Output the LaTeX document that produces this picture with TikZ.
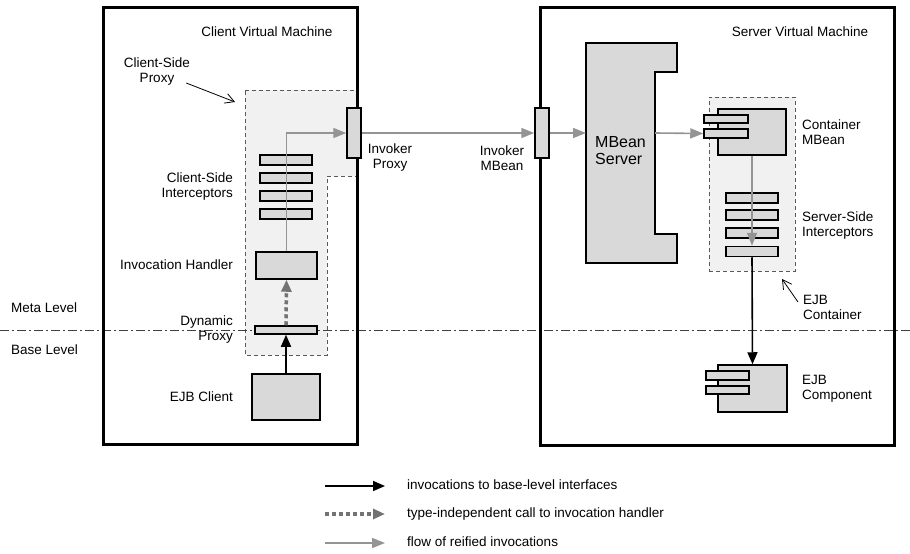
\documentclass[tikz,border=0pt]{standalone}
\usepackage{fontspec}
\setmainfont{Liberation Sans}
\usetikzlibrary{arrows.meta}
\definecolor{partgray}{gray}{0.85}
\definecolor{regiongray}{gray}{0.945}
\begin{document}
\begin{tikzpicture}[x=1pt,y=-1pt,
    font=\fontsize{13.5}{15}\selectfont,
    vm/.style={draw,line width=3pt,minimum width=#1},
    part/.style={draw,line width=1.5pt,fill=partgray,inner sep=0pt},
    region/.style={draw=black!65,dash pattern=on 4pt off 3pt,line width=1pt,fill=regiongray},
    level/.style={draw=black!75,dash pattern=on 9pt off 3pt on 2pt off 3pt,line width=0.9pt},
    base/.style={-{Triangle[length=12pt,width=10pt]},line width=1.6pt},
    reified/.style={-{Triangle[length=13pt,width=10pt]},line width=1.6pt,draw=black!42},
    handler/.style={-{Triangle[length=12pt,width=10pt]},line width=3.5pt,draw=black!55,dash pattern=on 4pt off 3pt},
    note/.style={-{Straight Barb[length=9pt,width=10pt]},line width=0.8pt},
    lbl/.style={inner sep=0pt}]
  \useasboundingbox (0,0) rectangle (910,554);
  % proxy and container regions
  \draw[region] (245,90) -- (357,90) -- (357,176) -- (327,176) -- (327,355) -- (245,355) -- cycle;
  \node[region,minimum width=86pt,minimum height=174pt] (ctr) at (752,184) {};
  % meta / base level divider
  \coordinate (lvlW) at (0,330);
  \coordinate (lvlE) at (910,330);
  \draw[level] (lvlW) -- (lvlE);
  % virtual machines
  \node[vm=254pt,minimum height=437pt] (cvm) at (230,225.5) {};
  \node[vm=354pt,minimum height=438pt] (svm) at (717,226) {};
  % client side
  \node[part,minimum width=52pt,minimum height=10pt] (ci1) at (286,160) {};
  \node[part,minimum width=52pt,minimum height=10pt] (ci2) at (286,178) {};
  \node[part,minimum width=52pt,minimum height=10pt] (ci3) at (286,196) {};
  \node[part,minimum width=52pt,minimum height=10pt] (ci4) at (286,214) {};
  \node[part,minimum width=61pt,minimum height=27pt] (hdl) at (286.5,265.5) {};
  \node[part,minimum width=62pt,minimum height=8pt] (dyn) at (286,330) {};
  \node[part,minimum width=68pt,minimum height=46pt] (ejbc) at (286,397) {};
  \node[part,minimum width=14pt,minimum height=50pt] (iprx) at (354,133) {};
  \node[part,minimum width=14pt,minimum height=50pt] (imb) at (542,133) {};
  % server side
  \draw[part] (586,43) -- (677,43) -- (677,72) -- (655,72) -- (655,234) -- (677,234) -- (677,263) -- (586,263) -- cycle;
  \coordinate (srvW) at (586,133);
  \coordinate (srvE) at (655,133);
  \node[part,minimum width=68pt,minimum height=46pt] (cmb) at (752,132) {};
  \node[part,minimum width=44pt,minimum height=8pt] (ctab1) at (726,119) {};
  \node[part,minimum width=44pt,minimum height=9pt] (ctab2) at (726,133.5) {};
  \node[part,minimum width=52pt,minimum height=10pt] (si1) at (752,198) {};
  \node[part,minimum width=52pt,minimum height=10pt] (si2) at (752,215) {};
  \node[part,minimum width=52pt,minimum height=10pt] (si3) at (752,233) {};
  \node[part,minimum width=52pt,minimum height=10pt] (si4) at (752,251.5) {};
  \node[part,minimum width=69pt,minimum height=47pt] (ejb) at (752.5,388.5) {};
  \node[part,minimum width=43pt,minimum height=9pt] (etab1) at (727.5,375.5) {};
  \node[part,minimum width=43pt,minimum height=8pt] (etab2) at (727.5,390) {};
  % invocations
  \draw[reified] (hdl.north) -- (hdl.north |- iprx.west) -- (iprx.west);
  \draw[reified] (iprx.east) -- (imb.west);
  \draw[reified] (imb.east) -- (srvW);
  \draw[reified] (srvE) -- (ctab2.west);
  \draw[reified] (cmb.south) -- (si4.north);
  \draw[handler] (dyn.north) -- (hdl.south);
  \draw[base] (ejbc.north) -- (dyn.south);
  \draw[base] (si4.south) -- (ejb.north);
  % labels
  \node[lbl] (cvmt) at (267,32) {Client Virtual Machine};
  \node[lbl] (svmt) at (800,32) {Server Virtual Machine};
  \node[lbl,align=center] (cspl) at (157,72) {Client-Side\\Proxy};
  \coordinate (cspTip) at (235,102);
  \draw[note] ([shift={(-4,-3)}]cspl.south east) -- (cspTip);
  \node[lbl,align=right,anchor=east] (cil) at (233,187) {Client-Side\\Interceptors};
  \node[lbl,anchor=east] (hdll) at (233,265) {Invocation Handler};
  \node[lbl,align=right,anchor=east] (dynl) at (233,330) {Dynamic\\Proxy};
  \node[lbl,anchor=east] (ejbcl) at (233,397) {EJB Client};
  \node[lbl,align=center] (iprxl) at (390,158) {Invoker\\Proxy};
  \node[lbl,align=center] (imbl) at (502,158) {Invoker\\MBean};
  \node[lbl,align=left,anchor=west,font=\fontsize{16}{17}\selectfont] (mbsl) at (595,151) {MBean\\Server};
  \node[lbl,align=left,anchor=west] (cmbl) at (802,132) {Container\\MBean};
  \node[lbl,align=left,anchor=west] (sil) at (802,226) {Server-Side\\Interceptors};
  \node[lbl,align=left,anchor=west] (ctrl) at (803,307) {EJB\\Container};
  \coordinate (ctrTip) at (782,279);
  \draw[note] ([shift={(-5,-5)}]ctrl.west) -- (ctrTip);
  \node[lbl,align=left,anchor=west] (ejbl) at (802,389) {EJB\\Component};
  \node[lbl,anchor=west] (metal) at (11,308) {Meta Level};
  \node[lbl,anchor=west] (basel) at (11,350) {Base Level};
  % legend
  \coordinate (lg1a) at (325,486);
  \coordinate (lg1b) at (385,486);
  \coordinate (lg2a) at (325,514);
  \coordinate (lg2b) at (385,514);
  \coordinate (lg3a) at (325,543);
  \coordinate (lg3b) at (385,543);
  \draw[base] (lg1a) -- (lg1b);
  \draw[handler] (lg2a) -- (lg2b);
  \draw[reified] (lg3a) -- (lg3b);
  \node[lbl,anchor=west] (lg1) at (407,485) {invocations to base-level interfaces};
  \node[lbl,anchor=west] (lg2) at (407,514) {type-independent call to invocation handler};
  \node[lbl,anchor=west] (lg3) at (407,542) {flow of reified invocations};
\end{tikzpicture}
\end{document}
